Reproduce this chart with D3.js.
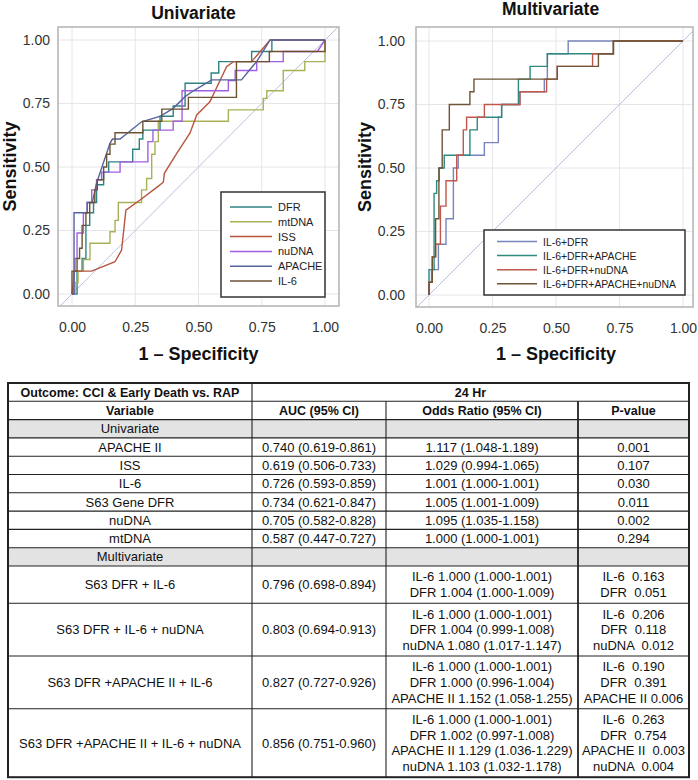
<!DOCTYPE html>
<html><head><meta charset="utf-8">
<script src="https://cdn.jsdelivr.net/npm/d3@7"></script>
<style>body{margin:0;background:#fff}svg{display:block}</style>
</head><body>
<svg id="c" width="698" height="780"></svg>
<script>
// ---------------- DATA ----------------
const axisTicks = [0, 0.25, 0.5, 0.75, 1];

const uniNames = ["DFR", "mtDNA", "ISS", "nuDNA", "APACHE", "IL-6"];
const uniColors = ["#2f8282", "#a9b157", "#b8553f", "#a45ee6", "#56649e", "#6d5232"];
const rocDFR = [[0,0],[0.02,0],[0.02,0.09],[0.04,0.09],[0.04,0.14],[0.055,0.14],[0.055,0.27],[0.07,0.27],[0.07,0.32],[0.085,0.32],[0.085,0.36],[0.097,0.36],[0.097,0.43],[0.125,0.43],[0.125,0.48],[0.145,0.48],[0.145,0.52],[0.24,0.52],[0.24,0.57],[0.266,0.57],[0.266,0.61],[0.28,0.61],[0.28,0.645],[0.348,0.645],[0.348,0.70],[0.40,0.70],[0.40,0.74],[0.447,0.74],[0.447,0.83],[0.55,0.83],[0.55,0.87],[0.58,0.87],[0.58,0.915],[0.71,0.915],[0.71,0.955],[0.79,0.955],[0.79,1],[1,1]];
const rocMtDNA = [[0,0],[0.012,0],[0.012,0.045],[0.024,0.045],[0.024,0.09],[0.045,0.09],[0.045,0.136],[0.071,0.136],[0.071,0.20],[0.15,0.20],[0.15,0.245],[0.17,0.245],[0.17,0.29],[0.183,0.29],[0.183,0.36],[0.275,0.36],[0.275,0.41],[0.295,0.41],[0.295,0.455],[0.315,0.455],[0.315,0.55],[0.328,0.55],[0.328,0.60],[0.341,0.60],[0.341,0.68],[0.618,0.68],[0.618,0.725],[0.756,0.725],[0.756,0.77],[0.77,0.77],[0.77,0.80],[0.835,0.80],[0.835,0.88],[0.92,0.88],[0.92,0.915],[1,0.915],[1,1]];
const rocISS = [[0,0],[0.01,0.09],[0.078,0.09],[0.17,0.127],[0.196,0.173],[0.213,0.33],[0.269,0.37],[0.335,0.42],[0.361,0.44],[0.365,0.475],[0.414,0.554],[0.466,0.633],[0.493,0.705],[0.545,0.757],[0.611,0.895],[0.638,0.915],[0.71,0.915],[0.783,1],[1,1]];
const rocNuDNA = [[0,0],[0.008,0],[0.008,0.09],[0.012,0.09],[0.012,0.14],[0.02,0.14],[0.02,0.24],[0.045,0.24],[0.045,0.32],[0.06,0.32],[0.06,0.36],[0.078,0.36],[0.078,0.41],[0.097,0.41],[0.097,0.45],[0.117,0.45],[0.117,0.48],[0.19,0.48],[0.19,0.52],[0.30,0.52],[0.30,0.60],[0.32,0.60],[0.32,0.645],[0.40,0.645],[0.40,0.68],[0.435,0.68],[0.435,0.80],[0.618,0.80],[0.618,0.84],[0.645,0.84],[0.645,0.88],[0.73,0.88],[0.73,0.915],[0.835,0.915],[0.835,0.955],[0.97,0.955],[1,1]];
const rocAPACHE = [[0,0],[0.008,0],[0.008,0.32],[0.06,0.32],[0.06,0.36],[0.08,0.36],[0.097,0.436],[0.15,0.593],[0.16,0.61],[0.19,0.61],[0.275,0.678],[0.35,0.70],[0.40,0.731],[0.447,0.777],[0.48,0.80],[0.552,0.843],[0.67,0.843],[0.70,0.88],[0.73,0.915],[0.783,1],[1,1]];
const rocIL6 = [[0,0],[0,0.09],[0.02,0.09],[0.02,0.14],[0.03,0.14],[0.03,0.18],[0.04,0.18],[0.04,0.27],[0.055,0.27],[0.055,0.32],[0.07,0.32],[0.07,0.36],[0.09,0.36],[0.09,0.41],[0.10,0.41],[0.10,0.45],[0.125,0.45],[0.125,0.50],[0.137,0.50],[0.137,0.55],[0.15,0.55],[0.15,0.59],[0.17,0.59],[0.17,0.635],[0.28,0.635],[0.28,0.68],[0.355,0.68],[0.355,0.728],[0.46,0.728],[0.46,0.774],[0.65,0.774],[0.65,0.915],[0.78,0.915],[0.78,0.955],[1,0.955],[1,1]];
const uniCurves = [rocDFR, rocMtDNA, rocISS, rocNuDNA, rocAPACHE, rocIL6];

const multiNames = ["IL-6+DFR", "IL-6+DFR+APACHE", "IL-6+DFR+nuDNA", "IL-6+DFR+APACHE+nuDNA"];
const multiColors = ["#7885bd", "#2e8a7e", "#c2574b", "#6e5535"];
const rocM1 = [[0,0],[0,0.05],[0.01,0.05],[0.01,0.10],[0.037,0.10],[0.037,0.20],[0.067,0.20],[0.067,0.30],[0.096,0.30],[0.096,0.50],[0.115,0.50],[0.115,0.55],[0.218,0.55],[0.218,0.60],[0.273,0.60],[0.273,0.70],[0.286,0.70],[0.286,0.75],[0.358,0.75],[0.358,0.80],[0.454,0.80],[0.454,0.85],[0.466,0.85],[0.466,0.95],[0.548,0.95],[0.548,1],[1,1]];
const rocM2 = [[0,0],[0,0.10],[0.02,0.10],[0.02,0.40],[0.03,0.40],[0.03,0.45],[0.04,0.45],[0.04,0.50],[0.06,0.50],[0.06,0.55],[0.161,0.55],[0.161,0.65],[0.19,0.65],[0.19,0.70],[0.286,0.70],[0.286,0.75],[0.352,0.75],[0.352,0.85],[0.398,0.85],[0.398,0.90],[0.466,0.90],[0.466,0.95],[0.726,0.95],[0.726,1],[1,1]];
const rocM3 = [[0,0],[0,0.05],[0.013,0.05],[0.013,0.15],[0.026,0.15],[0.026,0.20],[0.045,0.20],[0.045,0.35],[0.067,0.35],[0.067,0.45],[0.109,0.45],[0.109,0.55],[0.135,0.55],[0.135,0.65],[0.148,0.65],[0.148,0.70],[0.218,0.70],[0.218,0.75],[0.358,0.75],[0.358,0.80],[0.463,0.80],[0.463,0.85],[0.505,0.85],[0.505,0.90],[0.644,0.90],[0.644,0.95],[0.726,0.95],[0.726,1],[1,1]];
const rocM4 = [[0,0],[0,0.05],[0.013,0.05],[0.013,0.15],[0.026,0.15],[0.026,0.30],[0.039,0.30],[0.039,0.50],[0.052,0.50],[0.052,0.65],[0.08,0.65],[0.08,0.75],[0.161,0.75],[0.161,0.80],[0.177,0.80],[0.177,0.85],[0.505,0.85],[0.505,0.90],[0.667,0.90],[0.667,0.95],[0.726,0.95],[0.726,1],[1,1]];
const multiCurves = [rocM1, rocM2, rocM3, rocM4];

const tblHeader1 = ["Outcome: CCI & Early Death vs. RAP", "24 Hr"];
const tblHeader2 = ["Variable", "AUC (95% CI)", "Odds Ratio (95% CI)", "P-value"];
const uniVars = ["APACHE II", "ISS", "IL-6", "S63 Gene DFR", "nuDNA", "mtDNA"];
const uniAUC = ["0.740 (0.619-0.861)", "0.619 (0.506-0.733)", "0.726 (0.593-0.859)", "0.734 (0.621-0.847)", "0.705 (0.582-0.828)", "0.587 (0.447-0.727)"];
const uniOR = ["1.117 (1.048-1.189)", "1.029 (0.994-1.065)", "1.001 (1.000-1.001)", "1.005 (1.001-1.009)", "1.095 (1.035-1.158)", "1.000 (1.000-1.001)"];
const uniP = ["0.001", "0.107", "0.030", "0.011", "0.002", "0.294"];
const multiVars = ["S63 DFR + IL-6", "S63 DFR + IL-6 + nuDNA", "S63 DFR +APACHE II + IL-6", "S63 DFR +APACHE II + IL-6 + nuDNA"];
const multiAUC = ["0.796 (0.698-0.894)", "0.803 (0.694-0.913)", "0.827 (0.727-0.926)", "0.856 (0.751-0.960)"];
const multiOR = [
  ["IL-6 1.000 (1.000-1.001)", "DFR 1.004 (1.000-1.009)"],
  ["IL-6 1.000 (1.000-1.001)", "DFR 1.004 (0.999-1.008)", "nuDNA 1.080 (1.017-1.147)"],
  ["IL-6 1.000 (1.000-1.001)", "DFR 1.000 (0.996-1.004)", "APACHE II 1.152 (1.058-1.255)"],
  ["IL-6 1.000 (1.000-1.001)", "DFR 1.002 (0.997-1.008)", "APACHE II 1.129 (1.036-1.229)", "nuDNA 1.103 (1.032-1.178)"]
];
const multiP = [
  ["IL-6  0.163", "DFR  0.051"],
  ["IL-6  0.206", "DFR  0.118", "nuDNA  0.012"],
  ["IL-6  0.190", "DFR  0.391", "APACHE II 0.006"],
  ["IL-6  0.263", "DFR  0.754", "APACHE II  0.003", "nuDNA  0.004"]
];

// ---------------- DRAW ----------------
const FONT = "'Liberation Sans', Arial, Helvetica, sans-serif";
const svg = d3.select("#c").style("font-family", FONT);

function panel(o) {
  const g = svg.append("g");
  const x = d3.scaleLinear().domain([0, 1]).range([o.x0, o.x1]);
  const y = d3.scaleLinear().domain([0, 1]).range([o.y0, o.y1]);
  const L = o.frame[0], T = o.frame[1], R = o.frame[2], B = o.frame[3];
  const clipId = "clip" + o.id;
  g.append("clipPath").attr("id", clipId).append("rect")
    .attr("x", L).attr("y", T).attr("width", R - L).attr("height", B - T);
  g.selectAll(".gx").data(axisTicks).join("line")
    .attr("x1", d => x(d)).attr("x2", d => x(d)).attr("y1", T).attr("y2", B)
    .attr("stroke", "#e6e6ea").attr("stroke-width", 1);
  g.selectAll(".gy").data(axisTicks).join("line")
    .attr("y1", d => y(d)).attr("y2", d => y(d)).attr("x1", L).attr("x2", R)
    .attr("stroke", "#e6e6ea").attr("stroke-width", 1);
  g.append("line").attr("clip-path", `url(#${clipId})`)
    .attr("x1", x(-0.2)).attr("y1", y(-0.2)).attr("x2", x(1.2)).attr("y2", y(1.2))
    .attr("stroke", "#b9c1e0").attr("stroke-width", 1);
  const line = d3.line().x(d => x(d[0])).y(d => y(d[1]));
  o.curves.forEach((c, i) => {
    g.append("path").attr("d", line(c)).attr("fill", "none")
      .attr("stroke", o.colors[i]).attr("stroke-width", 1.4);
  });
  g.append("rect").attr("x", L).attr("y", T).attr("width", R - L).attr("height", B - T)
    .attr("fill", "none").attr("stroke", "#b3b3b3").attr("stroke-width", 1.5);
  const ax = g.append("g").attr("transform", `translate(0,${B})`)
    .call(d3.axisBottom(x).tickValues(axisTicks).tickFormat(d3.format(".2f")).tickSize(0).tickPadding(16));
  const ay = g.append("g").attr("transform", `translate(${L},0)`)
    .call(d3.axisLeft(y).tickValues(axisTicks).tickFormat(d3.format(".2f")).tickSize(0).tickPadding(o.ypad));
  [ax, ay].forEach(a => {
    a.select(".domain").remove();
    a.selectAll("text").attr("font-size", 14).attr("fill", "#333").attr("font-family", FONT);
  });
  g.append("text").attr("x", o.titleX).attr("y", o.titleY).attr("text-anchor", "middle")
    .attr("font-size", 17.5).attr("font-weight", "bold").attr("fill", "#111").text(o.title);
  g.append("text").attr("x", (o.x0 + o.x1) / 2).attr("y", 360).attr("text-anchor", "middle")
    .attr("font-size", 18).attr("font-weight", "bold").attr("fill", "#111").text("1 \u2013 Specificity");
  g.append("text").attr("transform", `translate(${o.ylabX},${(T + B) / 2}) rotate(-90)`)
    .attr("text-anchor", "middle").attr("font-size", 18).attr("font-weight", "bold")
    .attr("fill", "#111").text("Sensitivity");
  const lg = o.legend;
  g.append("rect").attr("x", lg.x).attr("y", lg.y).attr("width", lg.w).attr("height", lg.h)
    .attr("fill", "#fff").attr("stroke", "#333").attr("stroke-width", 1.5);
  o.names.forEach((n, i) => {
    const yy = lg.first + i * lg.step;
    g.append("line").attr("x1", lg.lx0).attr("x2", lg.lx1).attr("y1", yy).attr("y2", yy)
      .attr("stroke", o.colors[i]).attr("stroke-width", 1.5);
    g.append("text").attr("x", lg.tx).attr("y", yy + 4).attr("font-size", lg.fs)
      .attr("fill", "#222").text(n);
  });
}

panel({
  id: "u", x0: 72, x1: 325, y0: 294, y1: 40, frame: [58, 27, 339, 306], ypad: 8,
  title: "Univariate", titleX: 193.5, titleY: 19, ylabX: 16,
  curves: uniCurves, colors: uniColors, names: uniNames,
  legend: {x: 221, y: 192, w: 104, h: 105, first: 207, step: 14.8, lx0: 230, lx1: 272, tx: 278, fs: 11}
});
panel({
  id: "m", x0: 429, x1: 683, y0: 295, y1: 41, frame: [416, 27, 693, 307], ypad: 11,
  title: "Multivariate", titleX: 550.5, titleY: 15, ylabX: 371,
  curves: multiCurves, colors: multiColors, names: multiNames,
  legend: {x: 484, y: 230, w: 201, h: 65, first: 241.5, step: 14.1, lx0: 497, lx1: 537, tx: 543, fs: 10.4}
});

// ---------------- TABLE ----------------
const colX = [8, 252, 386, 578, 689];
const rowH = 18.3, lineH = 15.6, tableTop = 383, tFont = 13;
const rows = [];
rows.push({kind: "h1"});
rows.push({kind: "h2", cells: tblHeader2.map(d => [d])});
rows.push({kind: "sec", cells: [["Univariate"], [], [], []]});
uniVars.forEach((v, i) => rows.push({kind: "d", cells: [[v], [uniAUC[i]], [uniOR[i]], [uniP[i]]]}));
rows.push({kind: "sec", cells: [["Multivariate"], [], [], []]});
multiVars.forEach((v, i) => rows.push({kind: "d", cells: [[v], [multiAUC[i]], multiOR[i], multiP[i]]}));

let yCur = tableTop;
rows.forEach(r => {
  const n = r.cells ? d3.max(r.cells, c => c.length) : 1;
  r.h = n <= 1 ? rowH : n * lineH + 6;
  r.y = yCur; yCur += r.h;
});
const tableBottom = yCur;
const tg = svg.append("g");

rows.forEach(r => {
  if (r.kind === "sec") {
    tg.append("rect").attr("x", colX[0]).attr("y", r.y).attr("width", colX[4] - colX[0])
      .attr("height", r.h).attr("fill", "#e3e3e3");
  }
});
rows.slice(1).forEach(r => {
  tg.append("line").attr("x1", colX[0]).attr("x2", colX[4]).attr("y1", r.y).attr("y2", r.y)
    .attr("stroke", "#222").attr("stroke-width", 1.1);
});
colX.slice(1, 4).forEach((cx, i) => {
  tg.append("line").attr("x1", cx).attr("x2", cx)
    .attr("y1", i === 0 ? tableTop : tableTop + rows[0].h).attr("y2", tableBottom)
    .attr("stroke", "#222").attr("stroke-width", i === 2 ? 1.8 : 1.1);
});
tg.append("rect").attr("x", colX[0]).attr("y", tableTop).attr("width", colX[4] - colX[0])
  .attr("height", tableBottom - tableTop).attr("fill", "none").attr("stroke", "#222").attr("stroke-width", 2);

function cellText(lines, cx, r, bold) {
  const n = lines.length;
  const cy = r.y + r.h / 2;
  lines.forEach((t, j) => {
    tg.append("text").attr("x", cx).attr("y", cy + (j - (n - 1) / 2) * lineH + 4.6)
      .attr("text-anchor", "middle").attr("font-size", bold ? 12.5 : tFont)
      .attr("font-weight", bold ? "bold" : "normal").attr("fill", "#111")
      .style("white-space", "pre").text(t);
  });
}
rows.forEach(r => {
  if (r.kind === "h1") {
    cellText([tblHeader1[0]], (colX[0] + colX[1]) / 2, r, true);
    cellText([tblHeader1[1]], (colX[1] + colX[4]) / 2, r, true);
  } else {
    r.cells.forEach((c, i) => cellText(c, (colX[i] + colX[i + 1]) / 2, r, r.kind === "h2"));
  }
});
</script>
</body></html>
